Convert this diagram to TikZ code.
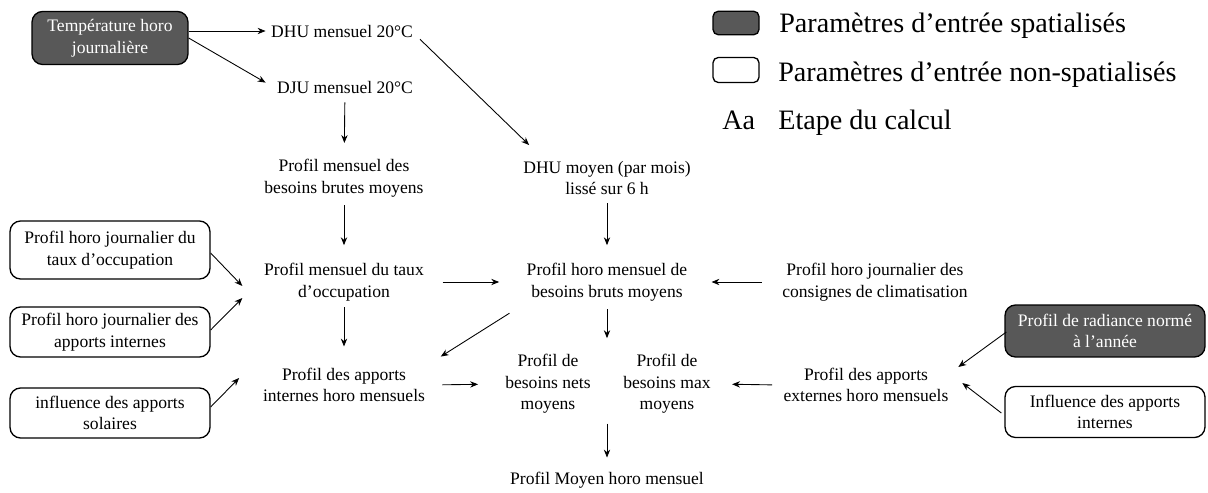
\documentclass[tikz,border=0pt]{standalone}
\usepackage{fontspec}
\setmainfont{Liberation Serif}
\usetikzlibrary{arrows.meta}
\definecolor{spatialfill}{RGB}{88,88,88}

\begin{document}
\begin{tikzpicture}[x=0.02cm,y=-0.02cm,
  every node/.style={font=\fontsize{10}{12.3}\selectfont, align=center, inner sep=2pt},
  etape/.style={},
  spatial/.style={draw, line width=0.75pt, rounded corners=6pt, fill=spatialfill, text=white, minimum width=3.12cm},
  nonspatial/.style={draw, line width=0.75pt, rounded corners=6pt, fill=white, minimum width=4cm},
  legend/.style={font=\fontsize{16}{19}\selectfont, anchor=base west, inner sep=0pt},
  flow/.style={-{Stealth[length=4.5pt,width=3.6pt]}, line width=0.5pt, shorten <=3pt, shorten >=7pt}]
\useasboundingbox (0,0) rectangle (1208,493);

% input boxes on the left
\node [spatial, minimum height=1.06cm] (temp) at (110,38) {Température horo\\journalière};
\node [nonspatial, minimum height=1.16cm] (occjour) at (110,250) {Profil horo journalier du\\taux d’occupation};
\node [nonspatial, minimum height=1cm] (intjour) at (110,332) {Profil horo journalier des\\apports internes};
\node [nonspatial, minimum height=1cm] (solaire) at (110,413) {influence des apports\\solaires};

% input boxes on the right
\node [spatial, minimum width=4cm, minimum height=1.04cm] (radiance) at (1105,331) {Profil de radiance normé\\à l’année};
\node [nonspatial, minimum height=1.02cm] (influence) at (1105,412) {Influence des apports\\internes};

% calculation steps
\node [etape] (dhu) at (342,31) {DHU mensuel 20°C};
\node [etape] (dju) at (345,87) {DJU mensuel 20°C};
\node [etape] (brutes) at (344,178) {Profil mensuel des\\besoins brutes moyens};
\node [etape] (dhumoy) at (607,178) {DHU moyen (par mois)\\lissé sur 6 h};
\node [etape] (taux) at (344,282) {Profil mensuel du taux\\d’occupation};
\node [etape] (horo) at (607,282) {Profil horo mensuel de\\besoins bruts moyens};
\node [etape] (consignes) at (875,282) {Profil horo journalier des\\consignes de climatisation};
\node [etape] (internes) at (344,385) {Profil des apports\\internes horo mensuels};
\node [etape] (nets) at (548,384) {Profil de\\besoins nets\\moyens};
\node [etape] (max) at (667,384) {Profil de\\besoins max\\moyens};
\node [etape] (externes) at (866,385) {Profil des apports\\externes horo mensuels};
\node [etape] (moyen) at (607,480) {Profil Moyen horo mensuel};

% arrows
\draw [flow, shorten <=0pt, shorten >=1pt] (temp.east |- dhu) -- (dhu);
\draw [flow, shorten <=0pt, shorten >=5pt] (temp.east) -- (dju.west);
\draw [flow, shorten <=1pt, shorten >=5pt] ([shift={(2,-3)}]dhu.south east) -- ([shift={(16,-6)}]dhumoy.north west);
\draw [flow] (dju) -- (brutes);
\draw [flow, shorten <=2.5pt, shorten >=8pt] (brutes) -- (taux);
\draw [flow, shorten <=2.5pt, shorten >=8pt] (dhumoy) -- (horo);
\draw [flow, shorten <=1.5pt, shorten >=10pt] (taux) -- (internes);
\draw [flow, shorten <=8.5pt, shorten >=13.5pt] (taux.east) -- (horo.west);
\draw [flow, shorten <=9.4pt, shorten >=11.6pt] (consignes.west) -- (horo.east);
\draw [flow, shorten <=9pt, shorten >=8pt] (horo.south west) -- (internes.north east);
\draw [flow, shorten <=2.5pt, shorten >=7pt] (horo) -- (horo |- nets.north);
\draw [flow, shorten <=7.7pt, shorten >=13.3pt] (internes.east) -- (nets.west);
\draw [flow, shorten <=4.3pt, shorten >=10pt] (externes.west) -- (max.east);
\draw [flow, shorten <=3.5pt, shorten >=6pt] (nets.south -| moyen) -- (moyen);

% arrows from the input boxes
\draw [flow, shorten <=0pt, shorten >=0pt] ([shift={(0,3)}]occjour.east) -- ([shift={(-18,4)}]taux.west);
\draw [flow, shorten <=0pt, shorten >=0pt] ([shift={(0,-2)}]intjour.east) -- ([shift={(-18,16)}]taux.west);
\draw [flow, shorten <=0pt, shorten >=0pt] ([shift={(0,-6)}]solaire.east) -- ([shift={(-20,-7)}]internes.west);
\draw [flow, shorten <=0pt, shorten >=0pt] ([shift={(2,1)}]radiance.west) -- ([shift={(6,-18)}]externes.east);
\draw [flow, shorten <=0pt, shorten >=0pt] ([shift={(-3,1)}]influence.west) -- ([shift={(10,-2)}]externes.east);

% legend
\node [draw, line width=0.75pt, rounded corners=3pt, fill=spatialfill, minimum width=0.92cm, minimum height=0.47cm] (keyspatial) at (736,23) {};
\node [draw, line width=0.75pt, rounded corners=3pt, fill=white, minimum width=0.92cm, minimum height=0.5cm] (keynonspatial) at (736,70) {};
\node [legend] (keyetape) at (722,130) {Aa};
\node [legend] (txtspatial) at (779,33) {Paramètres d’entrée spatialisés};
\node [legend] (txtnonspatial) at (778,82) {Paramètres d’entrée non-spatialisés};
\node [legend] (txtetape) at (778,130) {Etape du calcul};

\end{tikzpicture}
\end{document}
